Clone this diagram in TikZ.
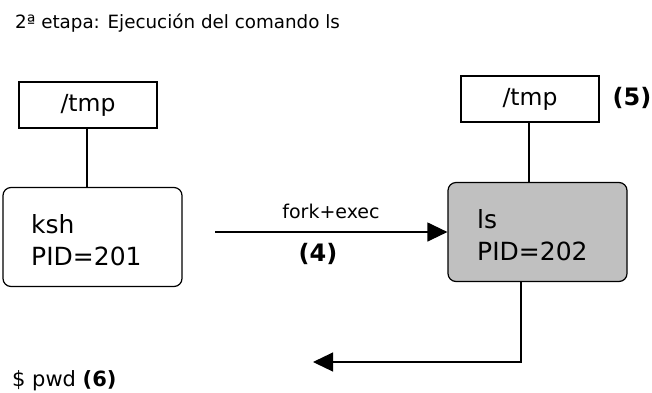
\documentclass[tikz,border=0pt]{standalone}
\usepackage{fontspec}
\setmainfont{DejaVu Sans}
\usetikzlibrary{arrows.meta}
\definecolor{procgray}{HTML}{C0C0C0}
\tikzset{
  dirbox/.style={draw=black, line width=1.2pt, rectangle, minimum width=138pt, minimum height=46pt, inner sep=0pt, font=\fontsize{23.5}{28}\selectfont},
  procbox/.style={draw=black, line width=1.2pt, rectangle, rounded corners=8pt, minimum width=179pt, minimum height=99pt, inner sep=0pt},
  boxtext/.style={anchor=base west, inner sep=0pt, font=\fontsize{25}{30}\selectfont},
  conn/.style={line width=1.2pt, draw=black},
  arr/.style={conn, -{Triangle[length=20pt,width=19pt]}},
  small/.style={inner sep=0pt, font=\fontsize{19}{23}\selectfont},
  stepnum/.style={inner sep=0pt, font=\fontsize{24}{28}\selectfont\bfseries},
}
\begin{document}
\begin{tikzpicture}[x=1pt,y=-1pt]
\useasboundingbox (0,0) rectangle (652,392);
% title
\node[anchor=base west, inner sep=0pt, font=\fontsize{18.3}{22}\selectfont] (title) at (15,28) {2ª etapa: Ejecución del comando ls};
% left side
\node[dirbox] (tmp1) at (88,105) {/tmp};
\node[procbox] (ksh) at (92.5,237) {};
\node[boxtext] (kshname) at (31,233) {ksh};
\node[boxtext] (kshpid) at (31,265) {PID=201};
% right side
\node[dirbox] (tmp2) at (530,99) {/tmp};
\node[stepnum] (s5) at (632,98) {(5)};
\node[procbox, fill=procgray] (ls) at (537.5,232) {};
\node[boxtext] (lsname) at (477,228) {ls};
\node[boxtext] (lspid) at (477,260) {PID=202};
% connectors
\draw[conn] (tmp1.south -| 87,0) -- (ksh.north -| 87,0);
\draw[conn] (tmp2.south -| 529,0) -- (ls.north -| 529,0);
\coordinate (fstart) at (215,232);
\draw[arr] (fstart) -- (ls.west);
\node[small] (fork) at (331,211) {fork+exec};
\node[stepnum] (s4) at (318,254) {(4)};
\coordinate (lsout) at (521,0);
\coordinate (ret) at (313,362);
\draw[arr] (ls.south -| lsout) |- (ret);
% prompt
\node[anchor=base west, inner sep=0pt, font=\fontsize{21}{25}\selectfont] (prompt) at (12,386) {\$ pwd \textbf{(6)}};
\end{tikzpicture}
\end{document}
